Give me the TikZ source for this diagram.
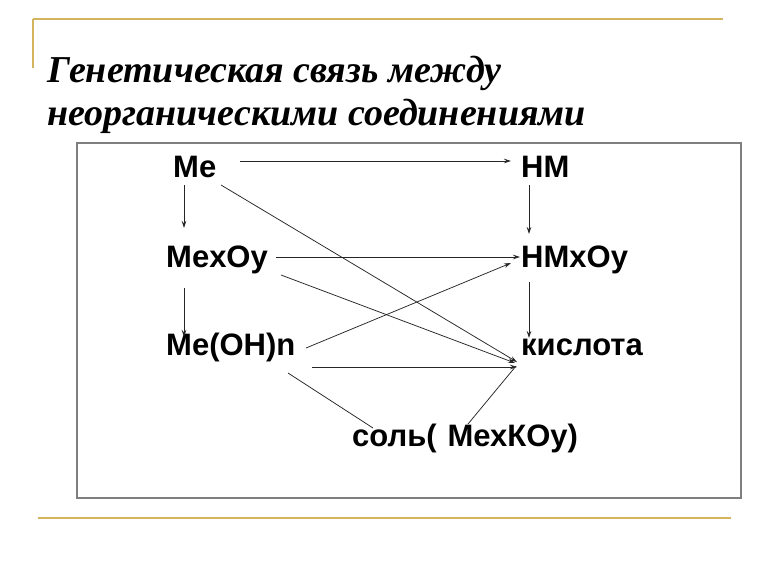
\documentclass[tikz,border=0pt]{standalone}
\usepackage{fontspec}
\setmainfont{Liberation Serif}
\newfontfamily\arialf{Liberation Sans}
\usetikzlibrary{arrows.meta}
\definecolor{goldline}{HTML}{D4B45C}
\definecolor{framegray}{HTML}{7F7F7F}
\begin{document}
\begin{tikzpicture}[x=1pt,y=-1pt,
  lbl/.style={font=\arialf\bfseries\fontsize{31}{31}\selectfont, anchor=base west, inner sep=0pt},
  ttl/.style={font=\bfseries\itshape\fontsize{38}{38}\selectfont, anchor=base west, inner sep=0pt},
  conn/.style={line width=0.75pt, draw=black!85},
  arr/.style={conn, -{Stealth[length=7pt,width=4.5pt]}},
  deco/.style={draw=goldline, line width=2pt}]
\useasboundingbox (0,0) rectangle (768,576);
\fill[white] (0,0) rectangle (768,576);
\draw[deco] (33,19) -- (723,19);
\draw[deco] (33,19) -- (33,68);
\draw[deco] (38,518) -- (731,518);
\draw[framegray, line width=1.3pt] (77,143) rectangle (741,498);

\node[ttl] (t1) at (47,82) {Генетическая связь между};
\node[ttl] (t2) at (47,125) {неорганическими соединениями};

\node[lbl] (me) at (173,177) {Me};
\node[lbl] (mexoy) at (166,267) {MexOy};
\node[lbl] (meoh) at (166,355) {Me(OH)n};
\node[lbl] (hm) at (521,177) {НМ};
\node[lbl] (hmxoy) at (521,267) {НМxOy};
\node[lbl] (kis) at (521,355) {кислота};
\node[lbl] (sol) at (352,446) {соль(\hspace{0.35em}МехКОу)};

% connector end points
\coordinate (me-r) at (240,161);
\coordinate (hm-l) at (511,161);
\coordinate (me-b) at (184,185);
\coordinate (mexoy-t) at (184,228);
\coordinate (mexoy-b) at (184,288);
\coordinate (meoh-t) at (184,337);
\coordinate (hm-b) at (529,185);
\coordinate (hmxoy-t) at (529,234);
\coordinate (hmxoy-b) at (529,282);
\coordinate (kis-t) at (529,338);
\coordinate (mexoy-r) at (276,257);
\coordinate (hmxoy-l) at (520,257);
\coordinate (me-d) at (221,185);
\coordinate (kis-a) at (517,362);
\coordinate (mexoy-d) at (281,275);
\coordinate (kis-b) at (515,363);
\coordinate (meoh-u) at (306,348);
\coordinate (hmxoy-d) at (511,263);
\coordinate (meoh-r) at (312,367);
\coordinate (kis-c) at (517,367);
\coordinate (meoh-d) at (288,373);
\coordinate (sol-l) at (373,428);
\coordinate (sol-r) at (468,424);
\coordinate (kis-d) at (516,366);

\draw[arr] (me-r) -- (hm-l);
\draw[arr] (me-b) -- (mexoy-t);
\draw[arr] (mexoy-b) -- (meoh-t);
\draw[arr] (hm-b) -- (hmxoy-t);
\draw[arr] (hmxoy-b) -- (kis-t);
\draw[arr] (mexoy-r) -- (hmxoy-l);
\draw[arr] (me-d) -- (kis-a);
\draw[arr] (mexoy-d) -- (kis-b);
\draw[arr] (meoh-u) -- (hmxoy-d);
\draw[arr] (meoh-r) -- (kis-c);
\draw[conn] (meoh-d) -- (sol-l);
\draw[conn] (sol-r) -- (kis-d);
\end{tikzpicture}
\end{document}
